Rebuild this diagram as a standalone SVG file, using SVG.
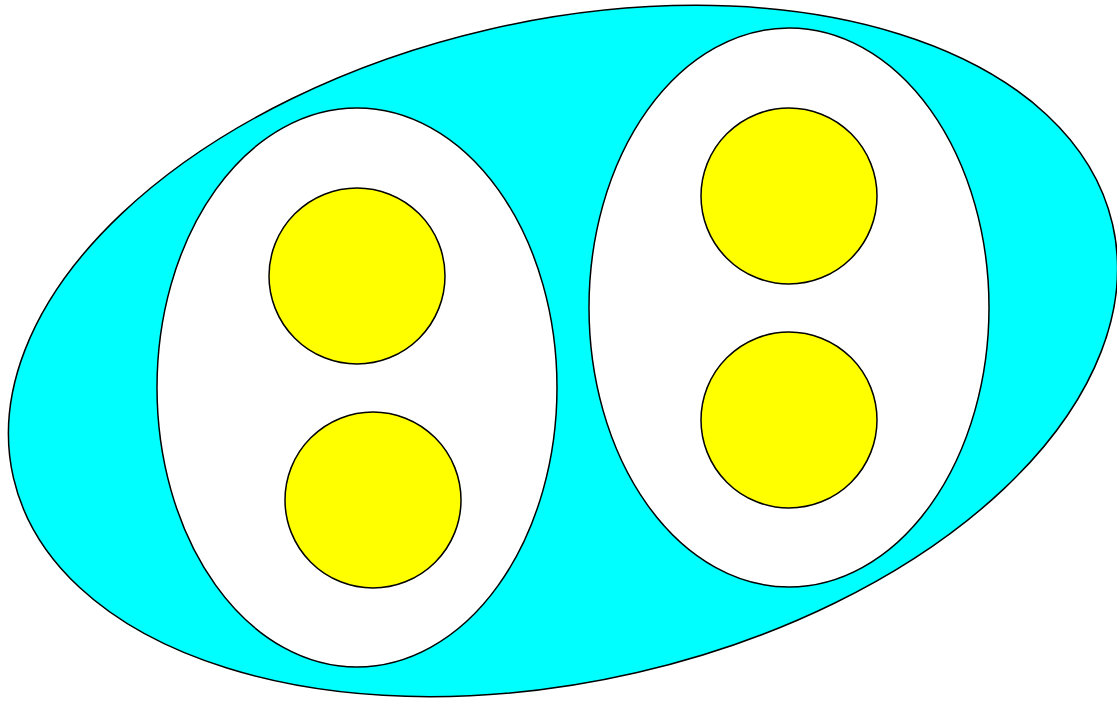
<svg xmlns="http://www.w3.org/2000/svg" width="1117" height="701" viewBox="0 0 1117 701">
<style>
.outer{fill:#00ffff;stroke:#000;stroke-width:1.5}
.cell{fill:#fff;stroke:#000;stroke-width:1.5}
.dot{fill:#ffff00;stroke:#000;stroke-width:1.5}
</style>
<rect width="1117" height="701" fill="#fff"/>
<g id="outer"><ellipse class="outer" cx="563" cy="351" rx="564" ry="330" transform="rotate(-13 563 351)"/></g>
<g id="left"><ellipse class="cell" cx="357" cy="387.5" rx="200" ry="279.5"/></g>
<g id="right"><ellipse class="cell" cx="789" cy="307.5" rx="200" ry="279.5"/></g>
<g id="l1"><circle class="dot" cx="357" cy="276" r="88"/></g>
<g id="l2"><circle class="dot" cx="373" cy="500" r="88"/></g>
<g id="r1"><circle class="dot" cx="789" cy="196" r="88"/></g>
<g id="r2"><circle class="dot" cx="789" cy="420" r="88"/></g>
<g id="connectors"></g>
</svg>
